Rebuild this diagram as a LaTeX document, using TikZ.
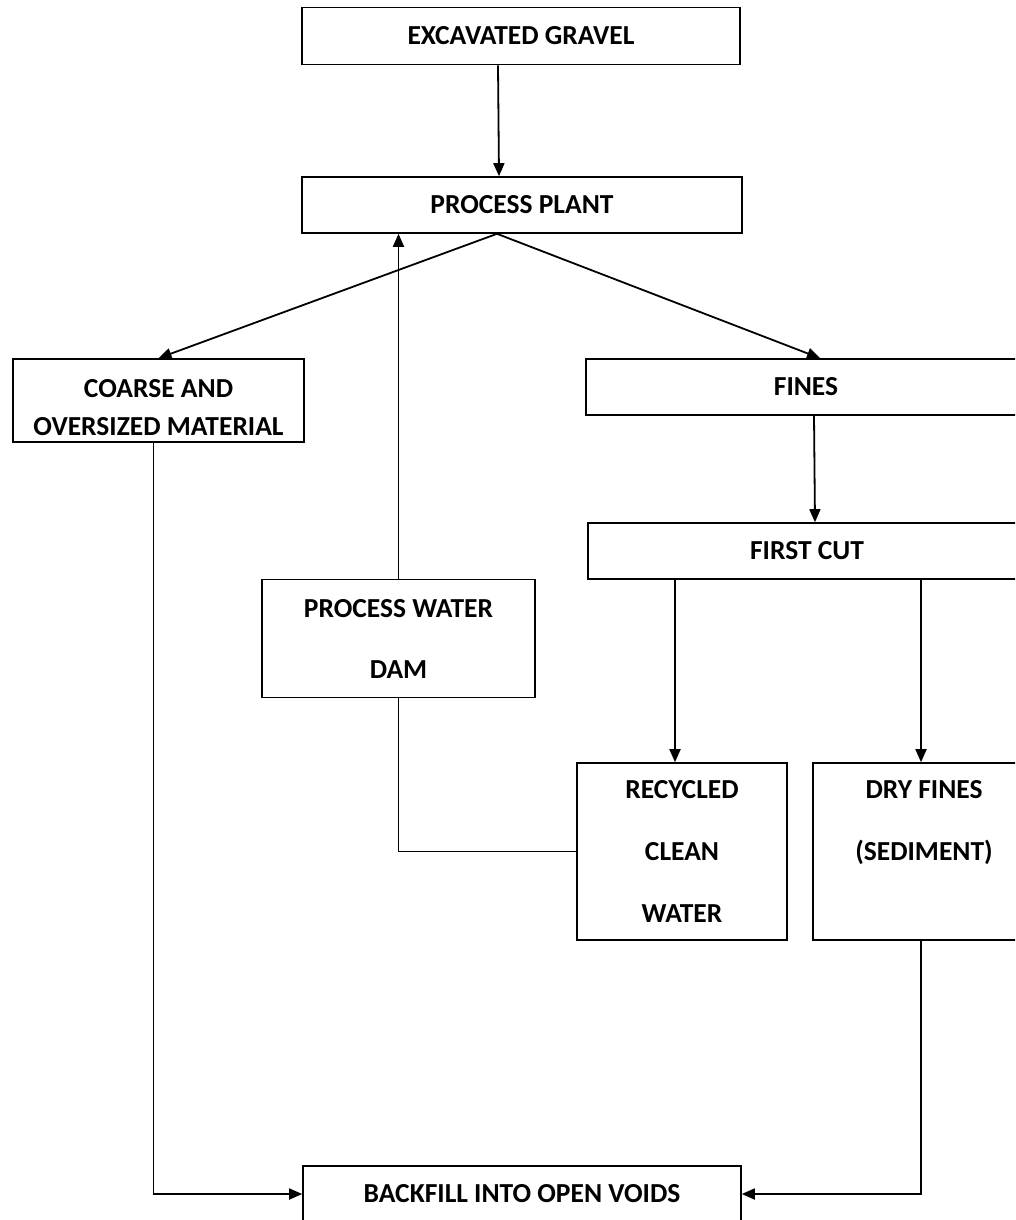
\documentclass[tikz,border=0pt]{standalone}
\usepackage{fontspec}
\setmainfont{Carlito}
\usetikzlibrary{arrows.meta}

\begin{document}
\begin{tikzpicture}[x=1pt,y=-1pt,
    box/.style={draw, line width=1.6pt, inner sep=0pt, align=center,
        font=\fontsize{27.5}{33}\selectfont\bfseries},
    arr/.style={line width=1.8pt, -{Triangle[length=13pt,width=11pt]}},
    link/.style={line width=1.6pt}]
        \clip (0,0) rectangle (1015,1220);

        \node[box, minimum width=438, minimum height=57] (gravel) at (521, 36) {EXCAVATED GRAVEL};
        \node[box, minimum width=440, minimum height=56] (plant) at (522, 205) {PROCESS PLANT};
        \node[box, minimum width=291, minimum height=83, font=\fontsize{27.5}{38}\selectfont\bfseries] (coarse) at (158.5, 400.5) {\rule{0pt}{33pt}COARSE AND\\OVERSIZED MATERIAL};
        \node[box, minimum width=440, minimum height=56] (fines) at (806, 387) {FINES};
        \node[box, minimum width=438, minimum height=56] (firstcut) at (807, 551) {FIRST CUT};
        \node[box, minimum width=273, minimum height=118, font=\fontsize{27.5}{61}\selectfont\bfseries] (dam) at (398.5, 638.5) {PROCESS WATER\\DAM};
        \node[box, minimum width=210, minimum height=177, font=\fontsize{27.5}{62}\selectfont\bfseries] (recycled) at (682, 851.5) {RECYCLED\\CLEAN\\WATER};
        \node[box, minimum width=222, minimum height=177, font=\fontsize{27.5}{62}\selectfont\bfseries] (dryfines) at (924, 851.5) {DRY FINES\\(SEDIMENT)\\~};
        \node[box, minimum width=438, minimum height=56] (backfill) at (522, 1194) {BACKFILL INTO OPEN VOIDS};

        \coordinate (split) at ([xshift=-25]plant.south);

        \draw[arr] ([xshift=-23]gravel.south) -- ([xshift=-23]plant.north);
        \draw[arr] (split) -- (coarse.north);
        \draw[arr] (split) -- ([xshift=14]fines.north);
        \draw[arr] (dam.north) -- (dam.north |- plant.south);
        \draw[arr] ([xshift=8]fines.south) -- ([xshift=8]firstcut.north);
        \draw[arr] ([xshift=-7]recycled.north |- firstcut.south) -- ([xshift=-7]recycled.north);
        \draw[arr] ([xshift=-3]dryfines.north |- firstcut.south) -- ([xshift=-3]dryfines.north);
        \draw[link] (dam.south) |- (recycled.west);
        \draw[arr] ([xshift=-5]coarse.south) |- (backfill.west);
        \draw[arr] ([xshift=-3]dryfines.south) |- (backfill.east);

\end{tikzpicture}
\end{document}
